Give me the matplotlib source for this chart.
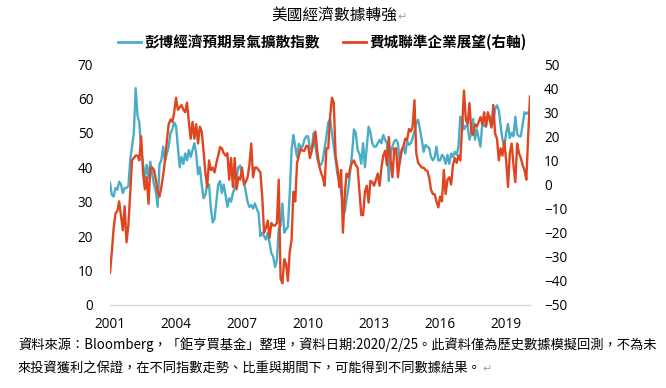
import numpy as np
import matplotlib
matplotlib.use("Agg")
import matplotlib.pyplot as plt
from matplotlib.lines import Line2D

plt.rcParams['font.family'] = ['Open Sans', 'Noto Sans CJK TC', 'DejaVu Sans']

# ---- data (monthly, starting Jan 2001) ----
start_year = 2001
blue_name = "彭博經濟預期景氣擴散指數"
red_name = "費城聯準企業展望(右軸)"

blue_values = [
    35.5, 32, 31.5, 34, 33.5, 35.8, 35, 32.5, 34, 34, 34.5, 42,      # 2001
    46, 50, 63, 55, 53, 45, 41, 37, 40.7, 37, 41.6, 38,              # 2002
    35, 33, 28.5, 41, 42, 46, 42, 44, 46, 50, 51, 53,                # 2003
    52, 46, 40, 43, 41, 44, 42, 45, 43, 45, 47, 44,                  # 2004
    38, 40, 35, 31, 32, 35, 35, 28, 24, 25, 30, 35,                  # 2005
    36, 32.5, 35, 32, 28.5, 31, 30, 32.5, 34, 37, 40, 40.5,          # 2006
    38, 36, 33, 30, 28.5, 29, 28, 29.5, 28, 26.7, 20, 21,            # 2007
    20, 19, 21, 18, 15, 14, 11, 13, 22, 23, 29.5, 21,                # 2008
    22, 22.7, 32.5, 45, 49.4, 46, 43, 46.8, 46, 46, 48, 49,          # 2009
    49, 45.5, 45, 50, 46, 42.6, 41, 40.7, 42, 45.5, 49, 53,          # 2010
    54, 50, 46, 42, 38, 36, 33, 29, 27, 31, 34, 39,                  # 2011
    44, 51, 50, 45, 44, 41, 47, 40, 46, 51.8, 50, 47,                # 2012
    46, 46, 47, 48, 47, 49.4, 48, 47, 36, 44, 46, 47.6,              # 2013
    48, 47, 41, 45, 46, 44, 47.6, 46.5, 47, 48.5, 50.5, 53,          # 2014
    53.8, 51, 48, 44.5, 46.5, 46, 45.6, 43, 42, 43, 46, 42,          # 2015
    42, 43.6, 43, 41, 43.6, 41, 44, 43, 44.5, 43.6, 46, 54.7,        # 2016
    54, 51, 52, 52, 48, 50, 54, 48, 51, 48.5, 46, 53,                # 2017
    52, 52, 54.7, 55, 52, 53, 57, 58, 56.5, 52, 48, 46,              # 2018
    50, 52.6, 48.5, 50, 49, 54.7, 49.6, 49, 49, 52.6, 56, 55.5,      # 2019
    56,                                                              # 2020
]

red_values = [
    -36.7, -28, -18, -12, -11, -7, -13, -19, -9, -24, -17, -4,      # 2001
    10, 11, 12, 12, 10, 20, 5, -2, 3, -8, 7, 7,                      # 2002
    6, 2, -3, -5, -1, 4, 10, 18, 25, 27, 26, 30,                     # 2003
    36, 31, 32, 33, 31, 30, 34, 26, 19, 26, 19, 25,                  # 2004
    17, 24, 22, 14, 5, -1, 10, 6, 7, 5, 9, 12,                       # 2005
    15.5, 15, 13, 12, 13, 2, 11, -1, 11, -2, 3, 2,                   # 2006
    7, 0, 1, 3, 8, 17, 3, 7, 7, 6, 5, -5,                            # 2007
    -20, -18, -15, -22, -16, -17, -17, -16, 2, -39, -41, -31,        # 2008
    -33, -40, -28, -23, -3, -7, 9, 12, 15, 14, 14, 16,               # 2009
    16, 11, 14, 18, 22, 14, 8, 5, 3, -0.5, 15, 15,                   # 2010
    28, 36, 34, 12, 7, -1, 6, -20, -4, 4.5, 3, 7,                    # 2011
    9, 10, 8, 7, -3, -12.7, -12.7, -3, -0.5, -7.5, 1.5, 1,           # 2012
    -0.5, 2, 4.5, -0.5, 7, 12, 14, 8, 19.7, 10, 3, 15,               # 2013
    15, 3, 10, 14, 16, 19, 18.5, 23, 22, 24, 35, 13,                 # 2014
    9, 8, 7, 7, 6, 5.7, 3, -2, -4, -4, -7, -9.5,                     # 2015
    -5, -7, 6, -4, 2, 3, 0, 8, 11, 9, 12, 10,                        # 2016
    24, 39, 27, 25, 33.8, 22, 20.5, 25, 24, 26, 28, 25,              # 2017
    30, 24, 30, 27, 23.6, 33, 21, 19, 10, 15, 12, 18,                # 2018
    10, -1, 13, 17, 8, 1, 17, 13, 11, 8, 6, 2,                       # 2019
    20, 36.5,                                                        # 2020
]

x_ticks = [2001, 2004, 2007, 2010, 2013, 2016, 2019]
left_ticks = [0, 10, 20, 30, 40, 50, 60, 70]
right_ticks = [-50, -40, -30, -20, -10, 0, 10, 20, 30, 40, 50]

title = "美國經濟數據轉強"
footer1 = "資料來源：Bloomberg，「鉅亨買基金」整理，資料日期:2020/2/25。此資料僅為歷史數據模擬回測，不為未"
footer2 = "來投資獲利之保證，在不同指數走勢、比重與期間下，可能得到不同數據結果。"

BLUE = "#4bacc6"
RED = "#df4520"

x_blue = start_year + np.arange(len(blue_values)) / 12.0
x_red = start_year + np.arange(len(red_values)) / 12.0

fig = plt.figure(figsize=(6.66, 3.88), dpi=100)
ax = fig.add_axes([110/666, 1-305/388, 420/666, 241/388])
ax2 = ax.twinx()

ax.plot(x_blue, blue_values, color=BLUE, lw=1.7, solid_joinstyle='round')
ax2.plot(x_red, red_values, color=RED, lw=1.7, solid_joinstyle='round')

ax.set_xlim(start_year, start_year + (len(red_values) - 1) / 12.0)
ax.set_ylim(0, 70)
ax2.set_ylim(-50, 50)
ax.set_xticks(x_ticks)
ax.set_xticklabels([str(t) for t in x_ticks])
ax.set_yticks(left_ticks)
ax2.set_yticks(right_ticks)

for a in (ax, ax2):
    for s in a.spines.values():
        s.set_visible(False)
    a.tick_params(length=0, labelsize=9.8, colors='black')
ax.spines['bottom'].set_visible(True)
ax.spines['bottom'].set_color('#d9d9d9')
ax.spines['bottom'].set_linewidth(1.0)
ax.tick_params(axis='y', pad=12)
ax.tick_params(axis='x', pad=9)
ax2.tick_params(axis='y', pad=10)

# title
tt = fig.text(334/666, 1-16/388, title, ha='center', va='center', fontsize=11.3,
              family=['Noto Sans CJK TC', 'DejaVu Sans'])

# legend
handles = [Line2D([], [], color=BLUE, lw=2), Line2D([], [], color=RED, lw=2)]
leg = fig.legend(handles, [blue_name, red_name], loc='center',
                 bbox_to_anchor=(322/666, 1-42/388), ncol=2, frameon=False,
                 handlelength=1.6, handletextpad=0.2, columnspacing=1.6,
                 prop={'family': 'Noto Sans CJK TC', 'size': 10.5, 'weight': 'bold'})

# footer
fig.text(18/666, 1-345/388, footer1, ha='left', va='center', fontsize=9.55,
         family=['Noto Sans CJK TC', 'DejaVu Sans'])
t2 = fig.text(18/666, 1-369/388, footer2, ha='left', va='center', fontsize=9.55,
              family=['Noto Sans CJK TC', 'DejaVu Sans'])
fig.canvas.draw()
bb = t2.get_window_extent()
fig.text((bb.x1 + 1) / 666, 1-369/388, "↵", ha='left', va='center', fontsize=8,
         color='#a0a0a0', family=['DejaVu Sans'])
bt = tt.get_window_extent()
fig.text((bt.x1 + 0.5) / 666, 1-17/388, "↵", ha='left', va='center', fontsize=8,
         color='#a0a0a0', family=['DejaVu Sans'])

fig.savefig("out.png", dpi=100)
